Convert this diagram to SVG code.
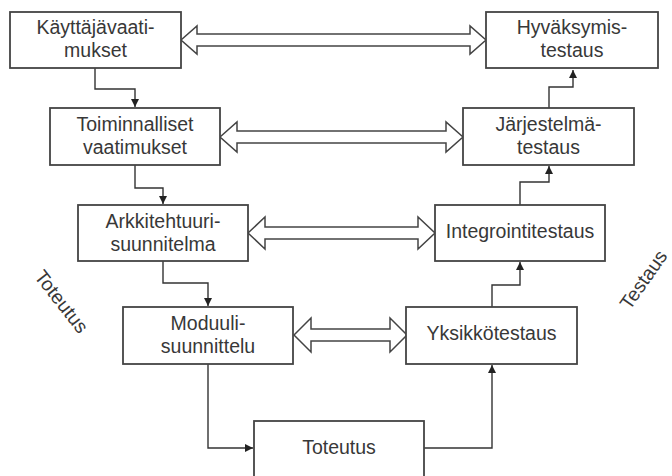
<svg xmlns="http://www.w3.org/2000/svg" width="672" height="476" viewBox="0 0 672 476">
<defs>
<style>
.box{fill:#fff;stroke:#444;stroke-width:1.8}
.lbl{font-family:"Liberation Sans",Arial,sans-serif;font-size:19.5px;fill:#383838;text-anchor:middle}
.con{fill:none;stroke:#333;stroke-width:1.4}
.blk{fill:#fff;stroke:#444;stroke-width:1.5;stroke-linejoin:miter}
</style>
<marker id="ah" markerUnits="userSpaceOnUse" markerWidth="10" markerHeight="10" viewBox="0 0 10 10" refX="9" refY="5" orient="auto">
<path d="M1,1 L9,5 L1,9 Z" fill="#222"/>
</marker>
</defs>
<rect width="672" height="476" fill="#fff"/>
<g id="connectors">
<path class="con" d="M95,68 V89 H135 V107" marker-end="url(#ah)"/>
<path class="con" d="M135,165 V188 H163 V204" marker-end="url(#ah)"/>
<path class="con" d="M163,261 V283 H208 V306" marker-end="url(#ah)"/>
<path class="con" d="M208,364 V448 H253" marker-end="url(#ah)"/>
<path class="con" d="M424,448 H492 V365" marker-end="url(#ah)"/>
<path class="con" d="M492,307 V285 H520 V262" marker-end="url(#ah)"/>
<path class="con" d="M520,205 V182 H549 V166" marker-end="url(#ah)"/>
<path class="con" d="M549,108 V87 H573 V70" marker-end="url(#ah)"/>
<path class="blk" d="M181,40 L197,26 L197,34 L470,34 L470,26 L486,40 L470,54 L470,46 L197,46 L197,54 Z"/>
<path class="blk" d="M220,137 L237,122 L237,131 L446,131 L446,122 L463,137 L446,152 L446,143 L237,143 L237,152 Z"/>
<path class="blk" d="M248,233 L265,217 L265,227 L418,227 L418,217 L435,233 L418,249 L418,239 L265,239 L265,249 Z"/>
<path class="blk" d="M294,335 L311,318 L311,329 L390,329 L390,318 L407,335 L390,352 L390,341 L311,341 L311,352 Z"/>
</g>
<g id="kayttajavaatimukset">
<rect class="box" x="10" y="12" width="171" height="56"/>
<text class="lbl" x="95.5" y="34">Käyttäjävaati-</text>
<text class="lbl" x="95.5" y="57">mukset</text>
</g>
<g id="toiminnalliset">
<rect class="box" x="50" y="108" width="170" height="57"/>
<text class="lbl" x="135" y="131">Toiminnalliset</text>
<text class="lbl" x="135" y="154">vaatimukset</text>
</g>
<g id="arkkitehtuuri">
<rect class="box" x="78" y="205" width="170" height="56"/>
<text class="lbl" x="163" y="228">Arkkitehtuuri-</text>
<text class="lbl" x="163" y="251">suunnitelma</text>
</g>
<g id="moduuli">
<rect class="box" x="123" y="307" width="170" height="57"/>
<text class="lbl" x="208" y="330">Moduuli-</text>
<text class="lbl" x="208" y="353">suunnittelu</text>
</g>
<g id="toteutus">
<rect class="box" x="254" y="421" width="170" height="60"/>
<text class="lbl" x="339" y="454">Toteutus</text>
</g>
<g id="hyvaksymistestaus">
<rect class="box" x="486" y="12" width="172" height="56"/>
<text class="lbl" x="572" y="34">Hyväksymis-</text>
<text class="lbl" x="572" y="57">testaus</text>
</g>
<g id="jarjestelmatestaus">
<rect class="box" x="463" y="108" width="171" height="57"/>
<text class="lbl" x="548.5" y="131">Järjestelmä-</text>
<text class="lbl" x="548.5" y="154">testaus</text>
</g>
<g id="integrointitestaus">
<rect class="box" x="435" y="205" width="170" height="56"/>
<text class="lbl" x="520" y="238">Integrointitestaus</text>
</g>
<g id="yksikkotestaus">
<rect class="box" x="406" y="307" width="171" height="57"/>
<text class="lbl" x="491.5" y="340">Yksikkötestaus</text>
</g>
<g id="labels">
<text class="lbl" transform="translate(61,302) rotate(52)" x="0" y="6">Toteutus</text>
<text class="lbl" transform="translate(644,280) rotate(-55)" x="0" y="6">Testaus</text>
</g>
</svg>
